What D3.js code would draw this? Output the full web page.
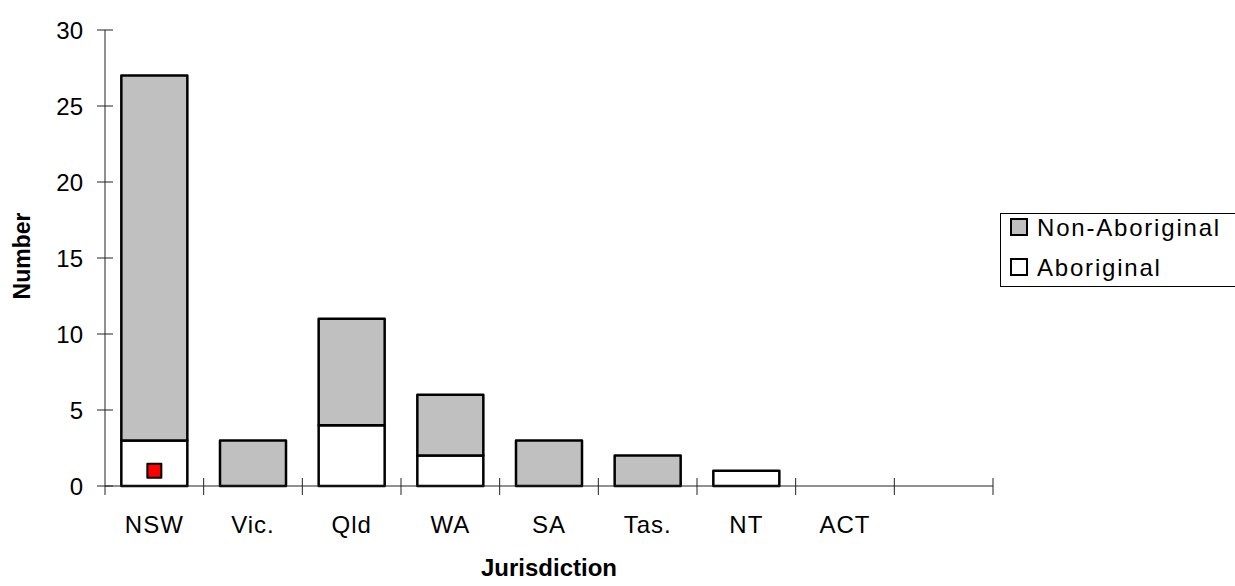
<!DOCTYPE html>
<html>
<head>
<meta charset="utf-8">
<script src="https://cdn.jsdelivr.net/npm/d3@7"></script>
<style>
  html, body { margin: 0; padding: 0; background: #fff; }
  svg { display: block; font-family: "Liberation Sans", Arial, sans-serif; }
</style>
</head>
<body>
<svg id="chart" width="1235" height="586"></svg>
<script>
const categories = ["NSW", "Vic.", "Qld", "WA", "SA", "Tas.", "NT", "ACT", ""];
const aboriginal = [3, 0, 4, 2, 0, 0, 1, 0, 0];
const nonAboriginal = [24, 3, 7, 4, 3, 2, 0, 0, 0];
const markerValues = [1, null, null, null, null, null, null, null, null];
const yTicks = [0, 5, 10, 15, 20, 25, 30];
const seriesNames = ["Non-Aboriginal", "Aboriginal"];
const seriesColors = ["#c0c0c0", "#ffffff"];

(function () {
const svg = d3.select("#chart");
const mLeft = 105, mRight = 993, mTop = 30, mBottom = 486;

const pi = 0.331;
const x = d3.scaleBand().domain(categories).range([mLeft, mRight])
  .paddingInner(pi).paddingOuter(pi / 2);
const y = d3.scaleLinear().domain([0, 30]).range([mBottom, mTop]);

const rows = categories.map((c, i) => ({ cat: c, "Aboriginal": aboriginal[i], "Non-Aboriginal": nonAboriginal[i] }));
const stacked = d3.stack().keys(["Aboriginal", "Non-Aboriginal"])(rows);
const colorOf = {};
seriesNames.forEach((n, i) => colorOf[n] = seriesColors[i]);

stacked.forEach(layer => {
  svg.append("g").selectAll("rect")
    .data(layer.filter(d => d[1] - d[0] > 0))
    .join("rect")
    .attr("x", d => x(d.data.cat))
    .attr("y", d => y(d[1]))
    .attr("width", x.bandwidth())
    .attr("height", d => y(d[0]) - y(d[1]))
    .attr("fill", colorOf[layer.key])
    .attr("stroke", "#000")
    .attr("stroke-width", 2.5)
    .attr("stroke-linejoin", "round");
});

const axisColor = "#222";
svg.append("line").attr("x1", mLeft).attr("x2", mLeft).attr("y1", y(30)).attr("y2", mBottom)
  .attr("stroke", axisColor).attr("stroke-width", 1);
const yg = svg.append("g");
yTicks.forEach(t => {
  yg.append("line").attr("x1", mLeft - 8).attr("x2", mLeft + 8)
    .attr("y1", y(t)).attr("y2", y(t)).attr("stroke", axisColor).attr("stroke-width", 1);
  yg.append("text").attr("x", 83).attr("y", y(t) + 8.5)
    .attr("text-anchor", "end").attr("font-size", 24).attr("fill", "#000").text(t);
});

svg.append("line").attr("x1", mLeft).attr("x2", mRight).attr("y1", mBottom).attr("y2", mBottom)
  .attr("stroke", axisColor).attr("stroke-width", 1);
const bounds = categories.map(c => x(c) - x.step() * pi / 2).concat([mRight]);
bounds.forEach((b, i) => {
  svg.append("line").attr("x1", b).attr("x2", b)
    .attr("y1", i === 0 ? mBottom : mBottom - 8).attr("y2", mBottom + 9)
    .attr("stroke", axisColor).attr("stroke-width", 1);
});
svg.append("g").selectAll("text").data(categories).join("text")
  .attr("x", d => x(d) + x.bandwidth() / 2)
  .attr("y", 533)
  .attr("text-anchor", "middle").attr("font-size", 24).attr("letter-spacing", 1)
  .attr("fill", "#000").text(d => d);

svg.append("g").selectAll("rect")
  .data(categories.map((c, i) => ({ cat: c, v: markerValues[i] })).filter(d => d.v != null))
  .join("rect")
  .attr("x", d => x(d.cat) + x.bandwidth() / 2 - 7)
  .attr("y", d => y(d.v) - 7)
  .attr("width", 14).attr("height", 14)
  .attr("fill", "#ff0000").attr("stroke", "#000").attr("stroke-width", 2)
  .attr("stroke-linejoin", "round");

svg.append("text").attr("transform", "translate(30,256) rotate(-90)")
  .attr("text-anchor", "middle").attr("font-size", 23).attr("font-weight", "bold")
  .attr("fill", "#000").text("Number");
svg.append("text").attr("x", 549).attr("y", 576)
  .attr("text-anchor", "middle").attr("font-size", 24).attr("font-weight", "bold")
  .attr("fill", "#000").text("Jurisdiction");

const lg = svg.append("g");
lg.append("rect").attr("x", 1000.5).attr("y", 213.5).attr("width", 260).attr("height", 73)
  .attr("fill", "#fff").attr("stroke", "#000").attr("stroke-width", 1);
seriesNames.forEach((name, i) => {
  const cy = 227 + i * 40;
  lg.append("rect").attr("x", 1011).attr("y", cy - 8).attr("width", 16).attr("height", 16)
    .attr("fill", seriesColors[i]).attr("stroke", "#000").attr("stroke-width", 2);
  lg.append("text").attr("x", 1037).attr("y", cy + 9)
    .attr("font-size", 24).attr("letter-spacing", 1.8).attr("fill", "#000").text(name);
});
})();
</script>
</body>
</html>
